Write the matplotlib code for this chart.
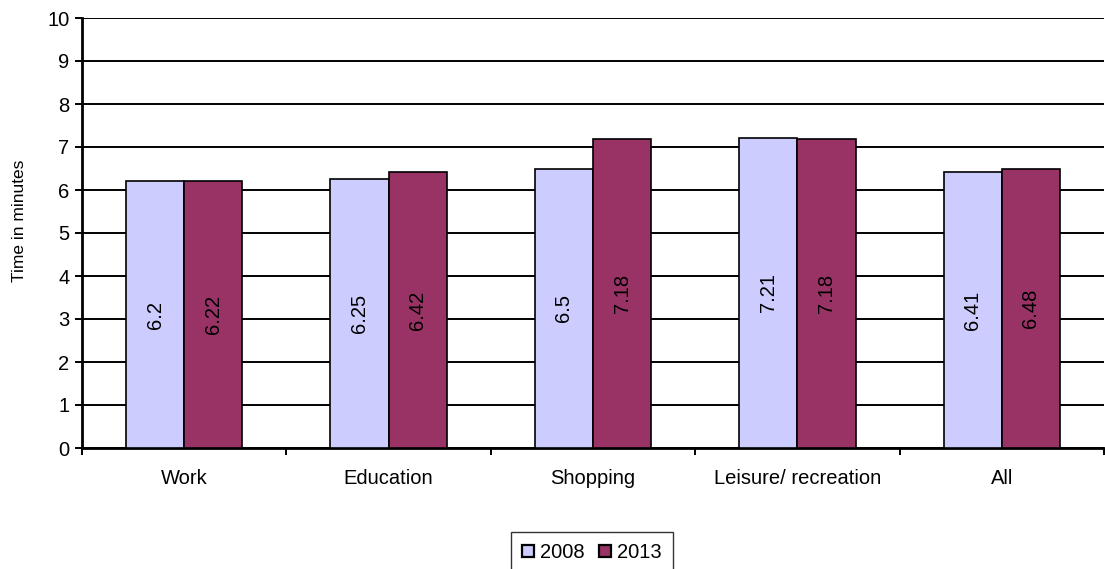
import numpy as np
import matplotlib.pyplot as plt
from matplotlib.patches import Patch

plt.rcParams['font.family'] = ['Liberation Sans', 'DejaVu Sans']

categories = ['Work', 'Education', 'Shopping', 'Leisure/ recreation', 'All']
years = ['2008', '2013']
values_2008 = [6.2, 6.25, 6.5, 7.21, 6.41]
values_2013 = [6.22, 6.42, 7.18, 7.18, 6.48]
colors = ['#CCCCFF', '#993366']

fig = plt.figure(figsize=(11.05, 5.69), dpi=100)
ax = fig.add_axes([82 / 1105, 1 - 448 / 569, 1022 / 1105, 430 / 569])

x = np.arange(len(categories))
w = 0.285
for off, vals, col in [(-w / 2, values_2008, colors[0]), (w / 2, values_2013, colors[1])]:
    bars = ax.bar(x + off, vals, w, color=col, edgecolor='black', linewidth=1.2, zorder=3)
    for b, v in zip(bars, vals):
        ax.text(b.get_x() + b.get_width() / 2, v / 2, f'{v:g}', rotation=90,
                ha='center', va='center', fontsize=14.5, zorder=4)

ax.set_xlim(-0.5, len(categories) - 0.5)
ax.set_ylim(0, 10)
ax.set_yticks(range(11))
ax.yaxis.grid(True, color='black', linewidth=1.4, zorder=0)
ax.set_xticks(x)
ax.set_xticklabels(categories, fontsize=14.5)
ax.set_xticks(np.arange(len(categories) + 1) - 0.5, minor=True)
ax.tick_params(axis='x', which='major', length=0, pad=15)
ax.tick_params(axis='x', which='minor', length=5, width=1.4, direction='out')
ax.tick_params(axis='y', labelsize=14.5, length=5, width=1.4, direction='out', pad=4)
ax.set_ylabel('Time in minutes', fontsize=12.5)
ax.yaxis.set_label_coords(-0.054, 0.528)

for s in ['top', 'right']:
    ax.spines[s].set_visible(False)
for s in ['left', 'bottom']:
    ax.spines[s].set_linewidth(2)

handles = [Patch(facecolor=c, edgecolor='black', linewidth=1.6) for c in colors]
fig.legend(handles, years, loc='upper center', bbox_to_anchor=(592 / 1105, 1 - 532 / 569), ncol=2,
           fontsize=14.5, frameon=True, fancybox=False, edgecolor='black',
           handlelength=0.6, handleheight=0.6, handletextpad=0.3, columnspacing=0.7,
           borderpad=0.55, borderaxespad=0)

fig.savefig('out.png', dpi=100)
